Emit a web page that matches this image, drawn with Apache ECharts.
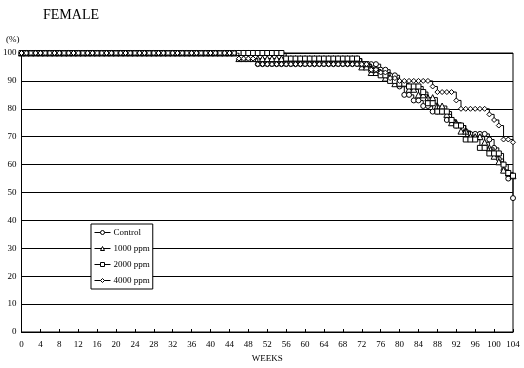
<!DOCTYPE html>
<html><head><meta charset="utf-8">
<script src="https://cdn.jsdelivr.net/npm/echarts@6/dist/echarts.min.js"></script>
<style>html,body{margin:0;padding:0;background:#fff}#c{width:524px;height:368px}</style>
</head><body><div id="c"></div>
<script>
const seriesNames = ['Control', '1000 ppm', '2000 ppm', '4000 ppm'];
const xTicks = [0,4,8,12,16,20,24,28,32,36,40,44,48,52,56,60,64,68,72,76,80,84,88,92,96,100,104];
const yTicks = [0,10,20,30,40,50,60,70,80,90,100];

const control = [
100,100,100,100,100,100,100,100,100,100,
100,100,100,100,100,100,100,100,100,100,
100,100,100,100,100,100,100,100,100,100,
100,100,100,100,100,100,100,100,100,100,
100,100,100,100,100,100,100,100,100,100,
96,96,96,96,96,96,96,96,96,96,
96,96,96,96,96,96,96,96,96,96,
96,96,96,96,96,96,94,94,92,92,
88,85,85,83,83,81,81,79,79,79,
76,76,74,74,72,71,71,71,71,69,
66,62,58,55,48];
const ppm1000 = [
100,100,100,100,100,100,100,100,100,100,
100,100,100,100,100,100,100,100,100,100,
100,100,100,100,100,100,100,100,100,100,
100,100,100,100,100,100,100,100,100,100,
100,100,100,100,100,100,98,98,98,98,
98,98,98,98,98,98,98,98,98,98,
98,98,98,98,98,98,98,98,98,98,
98,98,95,95,93,93,93,91,91,89,
89,89,87,87,85,85,84,84,81,81,
78,75,75,72,72,70,70,70,68,66,
63,61,58,57,56];
const ppm2000 = [
100,100,100,100,100,100,100,100,100,100,
100,100,100,100,100,100,100,100,100,100,
100,100,100,100,100,100,100,100,100,100,
100,100,100,100,100,100,100,100,100,100,
100,100,100,100,100,100,100,100,100,100,
100,100,100,100,100,100,98,98,98,98,
98,98,98,98,98,98,98,98,98,98,
98,98,96,96,94,94,92,92,90,90,
89,89,88,88,88,86,82,82,79,79,
79,76,74,74,69,69,69,66,66,64,
64,64,60,57,56];
const ppm4000 = [
100,100,100,100,100,100,100,100,100,100,
100,100,100,100,100,100,100,100,100,100,
100,100,100,100,100,100,100,100,100,100,
100,100,100,100,100,100,100,100,100,100,
100,100,100,100,100,100,98,98,98,98,
96,96,96,96,96,96,96,96,96,96,
96,96,96,96,96,96,96,96,96,96,
96,96,96,96,94,94,93,93,91,91,
90,90,90,90,90,90,90,88,86,86,
86,86,83,80,80,80,80,80,80,78,
76,74,69,69,68];

const allSeries = [control, ppm1000, ppm2000, ppm4000];
const symbols = ['circle', 'triangle', 'rect', 'diamond'];
const FONT = 'Liberation Serif';

const chart = echarts.init(document.getElementById('c'), null, {renderer: 'canvas'});
chart.setOption({
  animation: false,
  backgroundColor: '#fff',
  title: {text: 'FEMALE', left: 38, top: 3,
    textStyle: {fontFamily: FONT, fontSize: 14, fontWeight: 'normal', color: '#000'}},
  graphic: [{type: 'text', left: 6, top: 35,
    style: {text: '(%)', fontFamily: FONT, fontSize: 9, fill: '#000'}}],
  legend: {
    data: seriesNames, orient: 'vertical', left: 91, top: 224,
    backgroundColor: '#fff', borderColor: '#000', borderWidth: 1,
    padding: [4, 3, 4, 3], itemGap: 7, itemWidth: 16, itemHeight: 5,
    lineStyle: {width: 1, color: '#000'},
    itemStyle: {color: '#fff', borderColor: '#000', borderWidth: 1},
    textStyle: {fontFamily: FONT, fontSize: 9, color: '#000', padding: [0, 0, 0, -2]}
  },
  grid: {left: 20, right: 11, top: 53, bottom: 34, show: true, borderColor: '#000', borderWidth: 1},
  xAxis: {
    type: 'value', min: 0, max: 104, interval: 4,
    name: 'WEEKS', nameLocation: 'middle', nameGap: 22,
    nameTextStyle: {fontFamily: FONT, fontSize: 9, color: '#000'},
    axisLine: {show: true, lineStyle: {color: '#000', width: 1}},
    axisTick: {show: true, inside: true, length: 3, lineStyle: {color: '#000'}},
    axisLabel: {fontFamily: FONT, fontSize: 9, color: '#000', margin: 8,
      customValues: xTicks},
    splitLine: {show: false}
  },
  yAxis: {
    type: 'value', min: 0, max: 100, interval: 10,
    axisLine: {show: true, lineStyle: {color: '#000', width: 1}},
    axisTick: {show: false},
    axisLabel: {fontFamily: FONT, fontSize: 9, color: '#000', margin: 5},
    splitLine: {show: true, lineStyle: {color: '#000', width: 1}}
  },
  series: allSeries.map((arr, k) => ({
    name: seriesNames[k], type: 'line', step: 'end',
    data: arr.map((v, i) => [i, v]),
    symbol: symbols[k], symbolSize: k === 1 ? 6 : 5, showSymbol: true,
    lineStyle: {color: '#000', width: 1},
    itemStyle: {color: '#fff', borderColor: '#000', borderWidth: 1},
    z: 3 + k
  }))
});
</script></body></html>
